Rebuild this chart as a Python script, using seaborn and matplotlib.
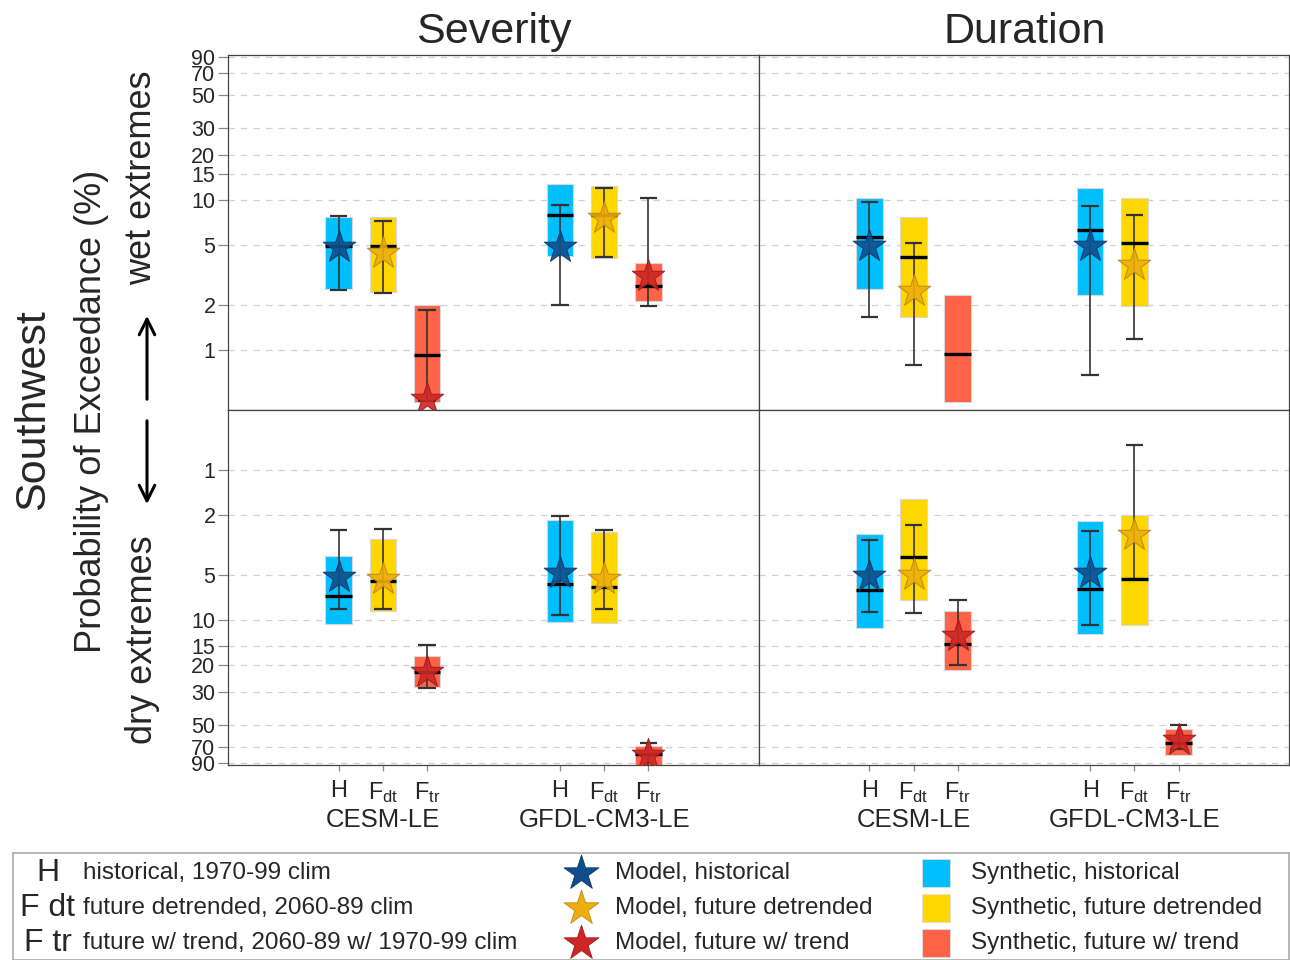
import matplotlib
matplotlib.use("Agg")
import matplotlib.pyplot as plt
import matplotlib.transforms as mtransforms
import numpy as np
import pandas as pd
import seaborn as sns
from matplotlib.patches import FancyArrowPatch
from matplotlib.ticker import NullLocator

models = ["CESM-LE", "GFDL-CM3-LE"]
scenarios = ["H", "Fdt", "Ftr"]
scenario_labels = ["H", "F$_{dt}$", "F$_{tr}$"]
positions = [0, 1, 2, 5, 6, 7]
prob_ticks = [1, 2, 5, 10, 15, 20, 30, 50, 70, 90]

nan = np.nan
# boxes: (whisker low, box low, median, box high, whisker high) in %
# order: CESM H, Fdt, Ftr, GFDL H, Fdt, Ftr
sev_wet_box = [
    (2.50, 2.54, 4.91, 7.75, 7.87),
    (2.41, 2.43, 4.91, 7.67, 7.24),
    (0.46, 0.45, 0.93, 2.00, 1.84),
    (2.00, 4.21, 7.93, 12.8, 9.30),
    (4.17, 4.10, 7.90, 12.4, 12.1),
    (1.96, 2.12, 2.69, 3.80, 10.4),
]
sev_wet_model = [4.90, 4.43, 0.47, 4.85, 7.56, 3.10]

dur_wet_box = [
    (1.67, 2.56, 5.72, 10.26, 9.76),
    (0.80, 1.66, 4.15, 7.75, 5.19),
    (nan, 0.45, 0.94, 2.35, nan),
    (0.686, 2.33, 6.33, 12.1, 9.20),
    (1.18, 1.97, 5.16, 10.26, 8.00),
    (nan, nan, nan, nan, nan),
]
dur_wet_model = [4.91, 2.47, nan, 4.91, 3.71, nan]

sev_dry_box = [
    (2.51, 3.77, 6.93, 10.67, 8.40),
    (2.47, 2.88, 5.52, 8.72, 8.49),
    (14.8, 17.5, 22.3, 28.0, 28.3),
    (2.02, 2.16, 5.74, 10.3, 9.30),
    (2.50, 2.58, 6.00, 10.5, 8.40),
    (66.4, 68.8, 78.6, 95.0, 99.0),
]
sev_dry_model = [5.17, 5.38, 22.1, 4.90, 5.38, 79.0]

dur_dry_box = [
    (2.94, 2.68, 6.36, 11.35, 8.80),
    (2.34, 1.57, 3.83, 7.42, 9.04),
    (7.33, 8.72, 14.5, 21.7, 20.1),
    (2.55, 2.21, 6.27, 12.4, 10.8),
    (0.68, 2.00, 5.38, 10.8, 5.38),
    (50.0, 53.4, 66.0, 79.0, 72.2),
]
dur_dry_model = [5.10, 5.04, 12.7, 4.85, 2.71, 63.0]

box_colors = {"H": "#00BFFF", "Fdt": "#FFD700", "Ftr": "#FF6347"}
star_colors = {"H": "#104E8B", "Fdt": "#EEAD0E", "Ftr": "#CD2626"}
star_edges = {"H": "#0B3A6A", "Fdt": "#C08A10", "Ftr": "#A01C1C"}

sns.set_theme(style="white")
plt.rcParams["font.family"] = ["Liberation Sans", "DejaVu Sans"]
plt.rcParams["mathtext.default"] = "regular"

W, H = 1290, 960
fig = plt.figure(figsize=(W / 100, H / 100), dpi=100)


def fx(px):
    return px / W


def fy(py):
    return 1 - py / H


def draw_panel(ax, boxes, model, dry):
    lo_w, lo_b, med, hi_b, hi_w = [np.array(v, dtype=float) for v in zip(*boxes)]
    pos = np.array(positions, dtype=float)
    scen = scenarios * 2
    ax.set_yscale("log")
    ok = ~np.isnan(lo_b)
    ax.bar(pos[ok], (hi_b - lo_b)[ok], bottom=lo_b[ok], width=0.6,
           color=[box_colors[s] for s, k in zip(scen, ok) if k],
           edgecolor="#d8d8d8", linewidth=0.8, zorder=2)
    ax.vlines(pos, lo_w, hi_w, color="#333333", lw=1.2, zorder=3)
    ax.hlines(lo_w, pos - 0.2, pos + 0.2, color="#333333", lw=1.6, zorder=3)
    ax.hlines(hi_w, pos - 0.2, pos + 0.2, color="#333333", lw=1.6, zorder=3)
    ax.hlines(med, pos - 0.3, pos + 0.3, color="black", lw=2.4, zorder=4)
    df = pd.DataFrame({"pos": pos, "val": model, "scen": scen}).dropna()
    for s in scenarios:
        d = df[df.scen == s]
        sns.scatterplot(data=d, x="pos", y="val", marker="*", s=600,
                        color=star_colors[s], edgecolor=star_edges[s],
                        linewidth=0.8, alpha=0.9, ax=ax, zorder=5, legend=False)
    ax.set_xlim(-2.5, 9.5)
    ax.set_ylim(0.4, 92.5)
    if dry:
        ax.invert_yaxis()
    ax.set_yticks(prob_ticks)
    ax.set_yticklabels([str(t) for t in prob_ticks])
    ax.yaxis.set_minor_locator(NullLocator())
    ax.yaxis.grid(True, ls=(0, (5, 5)), color="#d0d0d0", lw=0.9)
    ax.xaxis.grid(False)
    ax.set_xlabel("")
    ax.set_ylabel("")
    for sp in ax.spines.values():
        sp.set_color("#444444")
        sp.set_linewidth(0.9)


panels = [
    (sev_wet_box, sev_wet_model, 0, 0),
    (dur_wet_box, dur_wet_model, 0, 1),
    (sev_dry_box, sev_dry_model, 1, 0),
    (dur_dry_box, dur_dry_model, 1, 1),
]
for boxes, model, row, col in panels:
    left = 228 if col == 0 else 759
    top = 55 if row == 0 else 410
    ax = fig.add_axes([fx(left), fy(top + 355), fx(530 if col else 531), 355 / H])
    draw_panel(ax, boxes, model, dry=(row == 1))
    ax.tick_params(axis="y", which="major", left=(col == 0), labelleft=(col == 0),
                   length=7, width=0.9, color="#888888", labelsize=15.5, pad=2)
    if row == 1:
        ax.set_xticks(positions)
        ax.set_xticklabels(scenario_labels * 2)
        ax.tick_params(axis="x", bottom=True, length=4, width=0.9,
                       color="#888888", labelsize=17, pad=7)
        trans = mtransforms.blended_transform_factory(ax.transData, ax.transAxes)
        for m, xc in zip(models, [1, 6]):
            ax.text(xc, -55 / 355, m, transform=trans, ha="center", va="center",
                    fontsize=18.5)
    else:
        ax.set_xticks([])

fig.text(fx(493.5), fy(43), "Severity", ha="center", va="baseline", fontsize=31)
fig.text(fx(1024.5), fy(43), "Duration", ha="center", va="baseline", fontsize=31)
fig.text(fx(33), fy(410), "Southwest", rotation=90, ha="center", va="center", fontsize=31)
fig.text(fx(92), fy(411), "Probability of Exceedance (%)", rotation=90,
         ha="center", va="center", fontsize=26)
fig.text(fx(142), fy(178), "wet extremes", rotation=90, ha="center", va="center", fontsize=26)
fig.text(fx(142), fy(640), "dry extremes", rotation=90, ha="center", va="center", fontsize=26)
for y0, y1 in [(402, 313), (418, 507)]:
    fig.add_artist(FancyArrowPatch((fx(147), fy(y0)), (fx(147), fy(y1)),
                                   transform=fig.transFigure, arrowstyle="->",
                                   mutation_scale=28, lw=2.2, color="black"))

# legend box
lax = fig.add_axes([fx(13), 0, fx(1276), 107 / H])
lax.set_xlim(13, 1289)
lax.set_ylim(960, 853)
lax.set_xticks([])
lax.set_yticks([])
for sp in lax.spines.values():
    sp.set_color("#aaaaaa")
    sp.set_linewidth(1.2)
rows_y = [873, 908, 943]
abbrev = ["H", "F dt", "F tr"]
descr = ["historical, 1970-99 clim", "future detrended, 2060-89 clim",
         "future w/ trend, 2060-89 w/ 1970-99 clim"]
model_names = ["Model, historical", "Model, future detrended", "Model, future w/ trend"]
synth_names = ["Synthetic, historical", "Synthetic, future detrended",
               "Synthetic, future w/ trend"]
for i, s in enumerate(scenarios):
    y = rows_y[i]
    lax.text(48, y, abbrev[i], ha="center", va="center", fontsize=23)
    lax.text(83, y, descr[i], ha="left", va="center", fontsize=17.5)
    lax.scatter([581], [y], marker="*", s=700, color=star_colors[s],
                edgecolor=star_edges[s], linewidth=0.6, zorder=3)
    lax.text(615, y, model_names[i], ha="left", va="center", fontsize=17.5)
    lax.scatter([936], [y], marker="s", s=420, color=box_colors[s],
                edgecolor="#dddddd", linewidth=0.6, zorder=3)
    lax.text(971, y, synth_names[i], ha="left", va="center", fontsize=17.5)

fig.savefig("out.png", dpi=100)
